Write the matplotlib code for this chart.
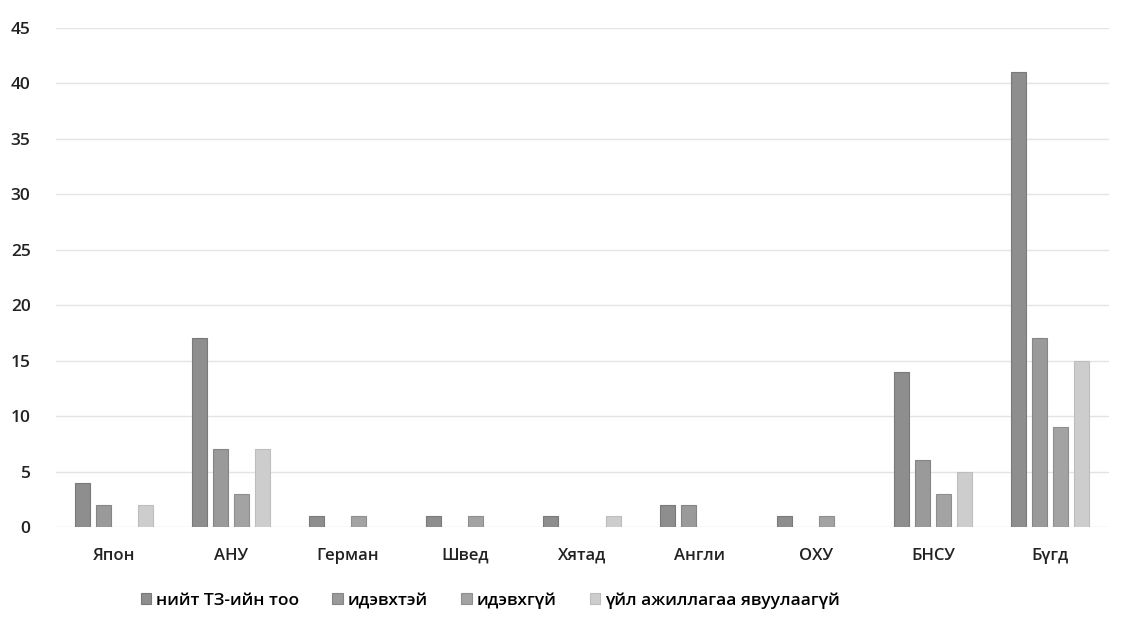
import numpy as np
import matplotlib
matplotlib.use("Agg")
import matplotlib.pyplot as plt

categories = ["Япон", "АНУ", "Герман", "Швед", "Хятад", "Англи", "ОХУ", "БНСУ", "Бүгд"]
series_names = ["нийт ТЗ-ийн тоо", "идэвхтэй", "идэвхгүй", "үйл ажиллагаа явуулаагүй"]
total = [4, 17, 1, 1, 1, 2, 1, 14, 41]
active = [2, 7, 0, 0, 0, 2, 0, 6, 17]
inactive = [0, 3, 1, 1, 0, 0, 1, 3, 9]
not_operating = [2, 7, 0, 0, 1, 0, 0, 5, 15]
yticks = list(range(0, 50, 5))

colors = ["#8e8e8e", "#9a9a9a", "#a3a3a3", "#cdcdcd"]
edges = ["#7a7a7a", "#858585", "#8f8f8f", "#bdbdbd"]

plt.rcParams["font.family"] = ["Open Sans", "DejaVu Sans"]

fig = plt.figure(figsize=(11.32, 6.23), dpi=100)
ax = fig.add_axes([55.5 / 1132, 1 - 527 / 623, 1053 / 1132, 499 / 623])

x = np.arange(len(categories))
step = 0.18
width = 0.13
for i, (vals, c, e) in enumerate(zip([total, active, inactive, not_operating], colors, edges)):
    # zero values are left empty, as in the original
    v = np.array(vals, dtype=float)
    v[v == 0] = np.nan
    ax.bar(x + (i - 1.5) * step, v, width=width, color=c, edgecolor=e,
           linewidth=0.8, label=series_names[i], zorder=3)

ax.set_xlim(-0.5, len(categories) - 0.5)
ax.set_ylim(0, 45)
ax.set_yticks(yticks)
ax.set_xticks(x)
ax.set_xticklabels(categories, fontsize=12, color="#222222", fontweight="semibold")
for lbl in ax.get_yticklabels():
    lbl.set_fontweight("semibold")
ax.tick_params(axis="y", labelsize=12.5, colors="#222222", length=0, pad=18)
ax.tick_params(axis="x", length=0, pad=15)
ax.grid(axis="y", color="#e4e4e4", linewidth=1, zorder=0)
for s in ax.spines.values():
    s.set_visible(False)

ax.legend(loc="upper center", bbox_to_anchor=(0.413, -0.1), ncol=4, frameon=False,
          prop={"size": 12.5, "weight": "semibold"}, handlelength=0.6, handleheight=0.6,
          handletextpad=0.3, columnspacing=1.9)

fig.savefig("out.png", dpi=100)
